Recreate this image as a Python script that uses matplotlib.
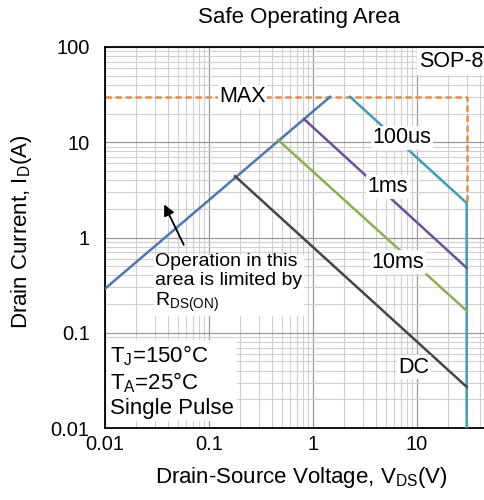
import matplotlib
matplotlib.use("Agg")
import matplotlib.pyplot as plt
from matplotlib.ticker import LogLocator, NullFormatter, FixedLocator, FixedFormatter

plt.rcParams['font.family'] = ['Liberation Sans', 'DejaVu Sans']
plt.rcParams['mathtext.fontset'] = 'custom'
plt.rcParams['mathtext.rm'] = 'Liberation Sans'
plt.rcParams['mathtext.it'] = 'Liberation Sans'

# data (V in volts, I in amps)
rds_v = [0.01, 1.46]
rds_i = [0.29, 30]
us100_v = [2.27, 30, 30]
us100_i = [30, 2.3, 0.01]
ms1_v = [0.82, 30]
ms1_i = [17.5, 0.48]
ms10_v = [0.46, 30]
ms10_i = [10.6, 0.17]
dc_v = [0.178, 30]
dc_i = [4.4, 0.027]
max_v = [0.01, 30, 30]
max_i = [30, 30, 2.3]

x_ticks = [0.01, 0.1, 1, 10]
x_labels = ["0.01", "0.1", "1", "10"]
y_ticks = [0.01, 0.1, 1, 10, 100]
y_labels = ["0.01", "0.1", "1", "10", "100"]

fig = plt.figure(figsize=(4.85, 5.0), dpi=100)
ax = fig.add_axes([105 / 485, 1 - 428 / 500, 380 / 485, 381 / 500])
ax.set_xscale('log')
ax.set_yscale('log')
ax.set_xlim(0.01, 45)
ax.set_ylim(0.01, 100)

ax.grid(which='major', color='#9a9a9a', lw=0.9)
ax.grid(which='minor', color='#d0d0d0', lw=0.8)
ax.xaxis.set_minor_locator(LogLocator(base=10, subs=range(2, 10)))
ax.yaxis.set_minor_locator(LogLocator(base=10, subs=range(2, 10)))
ax.xaxis.set_minor_formatter(NullFormatter())
ax.yaxis.set_minor_formatter(NullFormatter())
ax.xaxis.set_major_locator(FixedLocator(x_ticks))
ax.xaxis.set_major_formatter(FixedFormatter(x_labels))
ax.yaxis.set_major_locator(FixedLocator(y_ticks))
ax.yaxis.set_major_formatter(FixedFormatter(y_labels))
ax.tick_params(which='both', length=0, labelsize=14.5)
ax.tick_params(axis='y', pad=11)
ax.tick_params(axis='x', pad=5)
ax.set_axisbelow(True)
ax.spines['right'].set_visible(False)
for s in ['left', 'bottom', 'top']:
    ax.spines[s].set_linewidth(1.3)

lw = 1.8
ax.plot(max_v, max_i, color='#e58c3f', lw=lw, ls=(0, (2.5, 1.5)), zorder=2)
ax.plot(rds_v, rds_i, color='#4a78b5', lw=lw, zorder=3)
ax.plot(us100_v, us100_i, color='#3a9fb8', lw=lw, zorder=3)
ax.plot(ms1_v, ms1_i, color='#6b4f9e', lw=lw, zorder=3)
ax.plot(ms10_v, ms10_i, color='#8db04e', lw=lw, zorder=3)
ax.plot(dc_v, dc_i, color='#454545', lw=lw, zorder=3)

box = dict(facecolor='white', edgecolor='none', pad=1)
fs = 15.5
ax.text(0.21, 30, "MAX", fontsize=fs, ha='center', va='center', bbox=box, zorder=4)
ax.text(7.2, 11.1, "100us", fontsize=fs, ha='center', va='center', bbox=box, zorder=4)
ax.text(5.26, 3.39, "1ms", fontsize=fs, ha='center', va='center', bbox=box, zorder=4)
ax.text(6.56, 0.55, "10ms", fontsize=fs, ha='center', va='center', bbox=box, zorder=4)
ax.text(9.35, 0.0436, "DC", fontsize=fs, ha='center', va='center', bbox=box, zorder=4)
ax.text(0.997, 0.99, "SOP-8", fontsize=fs, ha='right', va='top', transform=ax.transAxes,
        bbox=dict(facecolor='white', edgecolor='none', pad=2), zorder=4)
ax.text(0.0303, 0.69, "Operation in this\narea is limited by\nR$_\\mathrm{DS(ON)}$",
        fontsize=14, ha='left', va='top', linespacing=1.15, bbox=box, zorder=4)
ax.text(0.0112, 0.0125, "T$_\\mathrm{J}$=150°C\nT$_\\mathrm{A}$=25°C\nSingle Pulse",
        fontsize=16, ha='left', va='bottom', linespacing=1.15,
        bbox=dict(facecolor='white', edgecolor='none', pad=2), zorder=4)
ax.annotate("", xy=(0.0361, 2.36), xytext=(0.0587, 0.79),
            arrowprops=dict(arrowstyle='-|>', color='black', lw=1.3, mutation_scale=16), zorder=5)

fig.text(299 / 485, 1 - 18 / 500, "Safe Operating Area", fontsize=16, ha='center', va='center')
fig.text(301 / 485, 1 - 477 / 500, "Drain-Source Voltage, V$_\\mathrm{DS}$(V)", fontsize=16,
         ha='center', va='center')
fig.text(22 / 485, 1 - 232 / 500, "Drain Current, I$_\\mathrm{D}$(A)", fontsize=16,
         ha='center', va='center', rotation=90)

fig.savefig("out.png", dpi=100)
